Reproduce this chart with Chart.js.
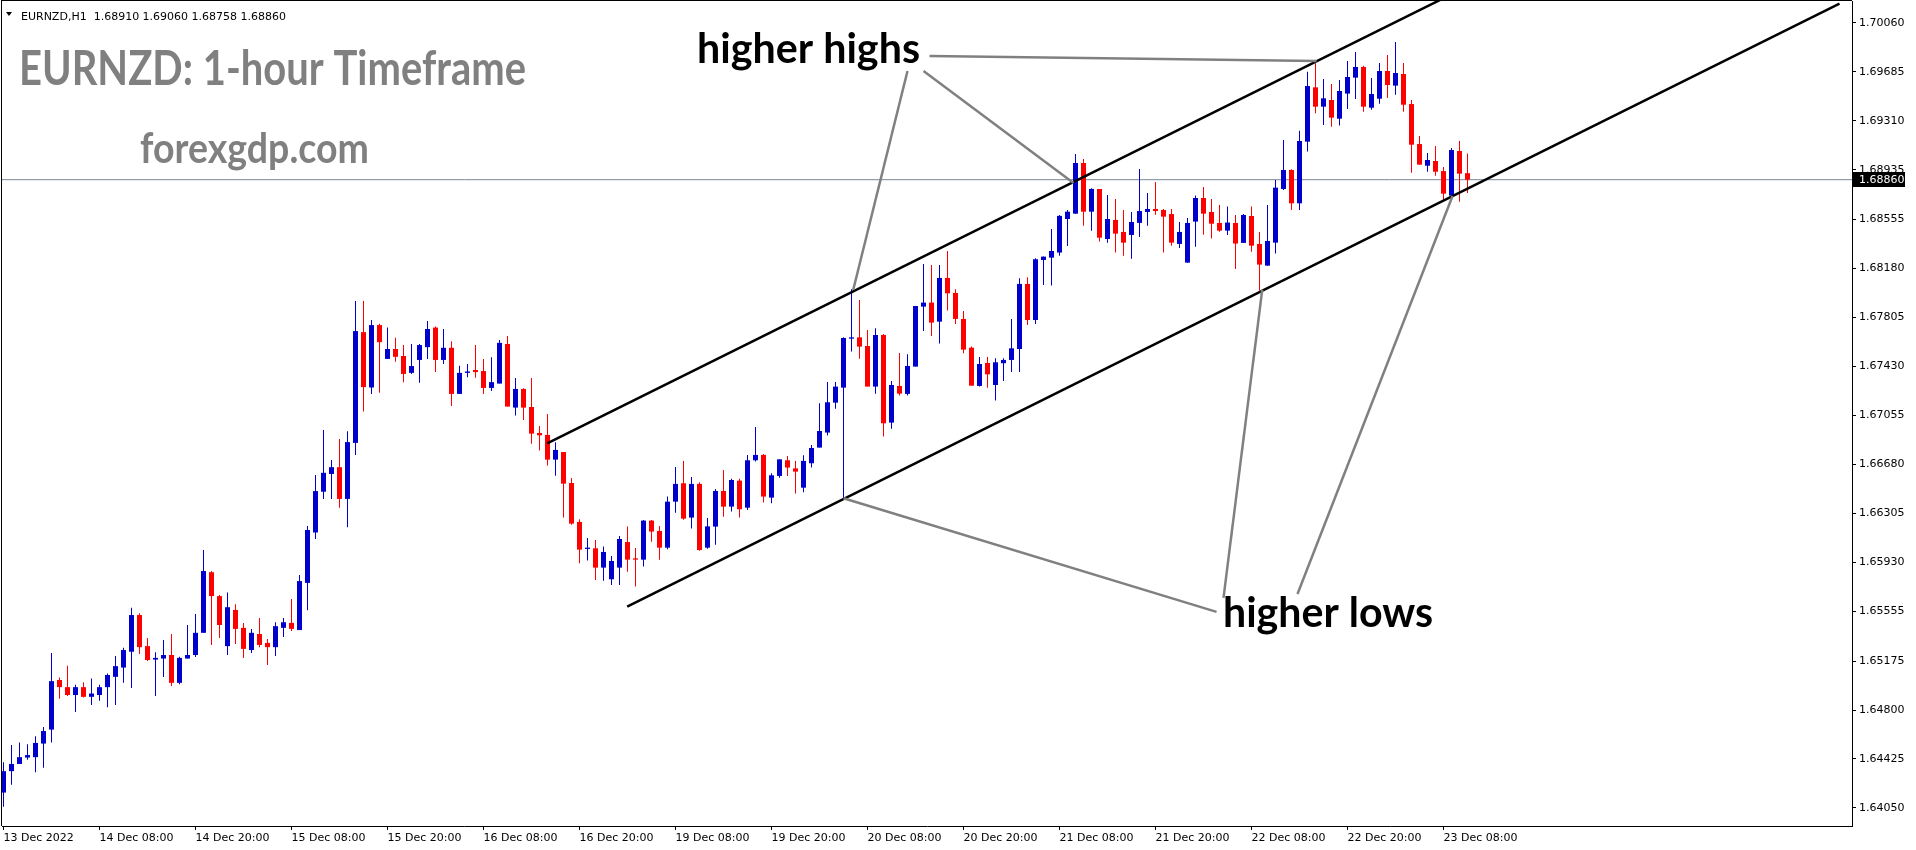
<!DOCTYPE html>
<html>
<head>
<meta charset="utf-8">
<title>EURNZD H1</title>
<script src="https://cdn.jsdelivr.net/npm/chart.js@4.4.1/dist/chart.umd.min.js"></script>
<style>
    html, body { margin: 0; padding: 0; background: #ffffff; }
    #wrap { position: relative; width: 1916px; height: 850px; }
</style>
</head>
<body>
<div id="wrap"><canvas id="eurnzdChart" width="1916" height="850"></canvas></div>
<script>
"use strict";

// ------------------------------------------------------- //
// Data (one hourly bar per index)
// ------------------------------------------------------ //
var opens = [
    1.64168, 1.64332, 1.64387, 1.64436, 1.64439, 1.64543, 1.64650, 1.65030, 1.64975, 1.64915, 1.64975, 1.64901,
    1.64915, 1.64975, 1.65054, 1.65125, 1.65246, 1.65527, 1.65289, 1.65186, 1.65194, 1.65221, 1.65008, 1.65194,
    1.65221, 1.65391, 1.65855, 1.65672, 1.65289, 1.65566, 1.65429, 1.65259, 1.65382, 1.65314, 1.65281, 1.65429,
    1.65467, 1.65412, 1.65773, 1.66159, 1.66471, 1.66607, 1.66659, 1.66416, 1.66845, 1.67693, 1.67269, 1.67747,
    1.67488, 1.67564, 1.67510, 1.67381, 1.67480, 1.67578, 1.67728, 1.67480, 1.67573, 1.67220, 1.67381, 1.67403,
    1.67395, 1.67266, 1.67299, 1.67602, 1.67115, 1.67258, 1.67120, 1.66921, 1.66906, 1.66717, 1.66775, 1.66538,
    1.66240, 1.66033, 1.66038, 1.65890, 1.65801, 1.65890, 1.66086, 1.65961, 1.65951, 1.66250, 1.66171, 1.66043,
    1.66395, 1.66536, 1.66273, 1.66531, 1.66043, 1.66204, 1.66477, 1.66357, 1.66556, 1.66349, 1.66712, 1.66753,
    1.66426, 1.66592, 1.66712, 1.66650, 1.66502, 1.66689, 1.66809, 1.66924, 1.67153, 1.67268, 1.67643, 1.67653,
    1.67587, 1.67276, 1.67671, 1.67000, 1.67281, 1.67220, 1.67429, 1.67888, 1.67919, 1.67773, 1.68108, 1.67993,
    1.67794, 1.67574, 1.67281, 1.67457, 1.67288, 1.67455, 1.67480, 1.67564, 1.68062, 1.67786, 1.68245, 1.68263,
    1.68302, 1.68559, 1.68600, 1.68988, 1.68615, 1.68789, 1.68406, 1.68552, 1.68460, 1.68437, 1.68529, 1.68613,
    1.68636, 1.68628, 1.68597, 1.68368, 1.68225, 1.68539, 1.68720, 1.68613, 1.68529, 1.68470, 1.68529, 1.68376,
    1.68582, 1.68368, 1.68202, 1.68378, 1.68789, 1.68934, 1.68679, 1.69151, 1.69567, 1.69419, 1.69470, 1.69327,
    1.69519, 1.69641, 1.69723, 1.69411, 1.69480, 1.69692, 1.69580, 1.69669, 1.69439, 1.69133, 1.68967, 1.69003,
    1.68926, 1.68738, 1.69080, 1.68910
];
var highs = [
    1.64401, 1.64532, 1.64551, 1.64537, 1.64600, 1.64669, 1.65237, 1.65049, 1.65139, 1.64994, 1.65013, 1.65041,
    1.64994, 1.65079, 1.65213, 1.65276, 1.65582, 1.65541, 1.65352, 1.65243, 1.65336, 1.65382, 1.65207, 1.65451,
    1.65535, 1.66025, 1.65864, 1.65680, 1.65700, 1.65609, 1.65467, 1.65421, 1.65505, 1.65344, 1.65472, 1.65505,
    1.65650, 1.65833, 1.66208, 1.66599, 1.66944, 1.66714, 1.66875, 1.66935, 1.67931, 1.67931, 1.67786, 1.67758,
    1.67728, 1.67649, 1.67594, 1.67603, 1.67603, 1.67778, 1.67737, 1.67717, 1.67624, 1.67436, 1.67449, 1.67594,
    1.67488, 1.67501, 1.67633, 1.67664, 1.67342, 1.67263, 1.67342, 1.66975, 1.67066, 1.66850, 1.66775, 1.66576,
    1.66260, 1.66117, 1.66102, 1.66051, 1.65979, 1.66132, 1.66204, 1.66041, 1.66255, 1.66255, 1.66209, 1.66434,
    1.66661, 1.66707, 1.66584, 1.66543, 1.66270, 1.66492, 1.66638, 1.66571, 1.66571, 1.66753, 1.66967, 1.66760,
    1.66612, 1.66719, 1.66745, 1.66707, 1.66750, 1.66829, 1.67148, 1.67312, 1.67312, 1.67653, 1.68021, 1.67939,
    1.67710, 1.67722, 1.67679, 1.67319, 1.67533, 1.67523, 1.67893, 1.68215, 1.68207, 1.68207, 1.68314, 1.68021,
    1.67855, 1.67582, 1.67503, 1.67503, 1.67493, 1.67493, 1.67794, 1.68105, 1.68113, 1.68258, 1.68271, 1.68483,
    1.68590, 1.68628, 1.69057, 1.69019, 1.68794, 1.68789, 1.68743, 1.68712, 1.68628, 1.68613, 1.68942, 1.68758,
    1.68842, 1.68636, 1.68636, 1.68536, 1.68567, 1.68738, 1.68804, 1.68712, 1.68666, 1.68654, 1.68590, 1.68598,
    1.68654, 1.68460, 1.68667, 1.68858, 1.69164, 1.68939, 1.69235, 1.69687, 1.69751, 1.69631, 1.69593, 1.69623,
    1.69769, 1.69838, 1.69733, 1.69639, 1.69753, 1.69815, 1.69914, 1.69753, 1.69470, 1.69194, 1.69064, 1.69118,
    1.68957, 1.69103, 1.69156, 1.69060
];
var lows = [
    1.64059, 1.64228, 1.64387, 1.64420, 1.64324, 1.64357, 1.64551, 1.64887, 1.64907, 1.64784, 1.64896, 1.64838,
    1.64871, 1.64822, 1.64838, 1.65008, 1.64969, 1.65229, 1.65175, 1.64907, 1.65052, 1.64983, 1.64997, 1.65194,
    1.65205, 1.65391, 1.65298, 1.65352, 1.65221, 1.65306, 1.65199, 1.65237, 1.65281, 1.65144, 1.65213, 1.65358,
    1.65404, 1.65412, 1.65563, 1.66110, 1.66416, 1.66416, 1.66348, 1.66200, 1.66752, 1.67086, 1.67220, 1.67228,
    1.67488, 1.67466, 1.67310, 1.67373, 1.67305, 1.67488, 1.67387, 1.67449, 1.67127, 1.67220, 1.67348, 1.67343,
    1.67220, 1.67242, 1.67299, 1.67123, 1.67054, 1.67021, 1.66839, 1.66786, 1.66671, 1.66594, 1.66273, 1.66219,
    1.65923, 1.65944, 1.65796, 1.65790, 1.65757, 1.65757, 1.65859, 1.65745, 1.65898, 1.66089, 1.65951, 1.66030,
    1.66311, 1.66257, 1.66189, 1.66020, 1.66035, 1.66066, 1.66280, 1.66319, 1.66273, 1.66332, 1.66702, 1.66388,
    1.66383, 1.66579, 1.66592, 1.66457, 1.66467, 1.66656, 1.66809, 1.66901, 1.67107, 1.66421, 1.67544, 1.67490,
    1.67276, 1.67222, 1.66893, 1.66954, 1.67207, 1.67207, 1.67429, 1.67702, 1.67664, 1.67605, 1.67858, 1.67755,
    1.67531, 1.67283, 1.67276, 1.67268, 1.67169, 1.67319, 1.67388, 1.67388, 1.67748, 1.67756, 1.68054, 1.68049,
    1.68278, 1.68352, 1.68600, 1.68508, 1.68470, 1.68386, 1.68378, 1.68302, 1.68278, 1.68255, 1.68421, 1.68508,
    1.68592, 1.68302, 1.68355, 1.68337, 1.68225, 1.68347, 1.68439, 1.68409, 1.68462, 1.68437, 1.68177, 1.68376,
    1.68309, 1.68011, 1.68202, 1.68294, 1.68781, 1.68628, 1.68628, 1.69075, 1.69368, 1.69279, 1.69266, 1.69274,
    1.69401, 1.69478, 1.69381, 1.69396, 1.69442, 1.69485, 1.69511, 1.69381, 1.68914, 1.68975, 1.68921, 1.68891,
    1.68704, 1.68730, 1.68692, 1.68758
];
var closes = [
    1.64332, 1.64387, 1.64439, 1.64455, 1.64548, 1.64639, 1.65021, 1.64975, 1.64915, 1.64975, 1.64901, 1.64926,
    1.64975, 1.65068, 1.65136, 1.65259, 1.65527, 1.65281, 1.65183, 1.65199, 1.65221, 1.65008, 1.65199, 1.65221,
    1.65391, 1.65864, 1.65672, 1.65451, 1.65587, 1.65421, 1.65268, 1.65391, 1.65298, 1.65281, 1.65442, 1.65472,
    1.65421, 1.65787, 1.66178, 1.66476, 1.66616, 1.66659, 1.66416, 1.66851, 1.67701, 1.67272, 1.67747, 1.67616,
    1.67564, 1.67504, 1.67373, 1.67433, 1.67594, 1.67717, 1.67480, 1.67573, 1.67220, 1.67381, 1.67392, 1.67387,
    1.67266, 1.67310, 1.67611, 1.67123, 1.67258, 1.67115, 1.66916, 1.66903, 1.66717, 1.66791, 1.66533, 1.66227,
    1.66028, 1.66043, 1.65890, 1.66010, 1.65941, 1.66109, 1.65951, 1.65951, 1.66250, 1.66166, 1.66043, 1.66395,
    1.66531, 1.66265, 1.66531, 1.66025, 1.66206, 1.66477, 1.66357, 1.66561, 1.66337, 1.66712, 1.66753, 1.66434,
    1.66597, 1.66719, 1.66656, 1.66625, 1.66707, 1.66806, 1.66936, 1.67156, 1.67276, 1.67648, 1.67653, 1.67582,
    1.67276, 1.67671, 1.66995, 1.67288, 1.67222, 1.67434, 1.67893, 1.67919, 1.67766, 1.68108, 1.67990, 1.67794,
    1.67559, 1.67283, 1.67449, 1.67370, 1.67462, 1.67480, 1.67569, 1.68062, 1.67786, 1.68251, 1.68271, 1.68314,
    1.68583, 1.68615, 1.68988, 1.68615, 1.68789, 1.68416, 1.68559, 1.68447, 1.68378, 1.68536, 1.68620, 1.68636,
    1.68620, 1.68577, 1.68378, 1.68460, 1.68529, 1.68720, 1.68600, 1.68523, 1.68470, 1.68532, 1.68371, 1.68590,
    1.68355, 1.68210, 1.68391, 1.68799, 1.68934, 1.68679, 1.69156, 1.69577, 1.69419, 1.69483, 1.69335, 1.69539,
    1.69646, 1.69723, 1.69419, 1.69516, 1.69692, 1.69585, 1.69677, 1.69434, 1.69128, 1.68975, 1.69011, 1.68921,
    1.68753, 1.69087, 1.68906, 1.68860
];

// axis ticks
var priceTicks = [1.70060, 1.69685, 1.69310, 1.68935, 1.68555, 1.68180, 1.67805, 1.67430, 1.67055,
                  1.66680, 1.66305, 1.65930, 1.65555, 1.65175, 1.64800, 1.64425, 1.64050];
var timeTickBars = [0, 12, 24, 36, 48, 60, 72, 84, 96, 108, 120, 132, 144, 156, 168, 180];
var timeTickLabels = ["13 Dec 2022", "14 Dec 08:00", "14 Dec 20:00", "15 Dec 08:00", "15 Dec 20:00",
                      "16 Dec 08:00", "16 Dec 20:00", "19 Dec 08:00", "19 Dec 20:00", "20 Dec 08:00",
                      "20 Dec 20:00", "21 Dec 08:00", "21 Dec 20:00", "22 Dec 08:00", "22 Dec 20:00",
                      "23 Dec 08:00"];

// drawn objects: [bar index, price] end points
var channelTop = [[67.96, 1.66842], [182.1, 1.70313]];
var channelBottom = [[77.96, 1.65591], [229.5, 1.70208]];
var highsPointers = [
    [[115.75, 1.69807], [164.13, 1.69769]],
    [[115.0, 1.69692], [133.75, 1.68835]],
    [[113.0, 1.69692], [106.21, 1.68016]]
];
var lowsPointers = [
    [[105.0, 1.66421], [151.63, 1.65551]],
    [[152.5, 1.65658], [157.34, 1.68016]],
    [[161.75, 1.65688], [181.13, 1.68735]]
];

// ------------------------------------------------------- //
// Scale window
// ------------------------------------------------------ //
var xMin = -0.1875, xMax = 231.0625;
var yMin = 1.63912, yMax = 1.70228;

var bullColor = "#0000CD";
var bearColor = "#FF0000";
var last = opens.length - 1;

var candleColors = opens.map(function (o, i) {
    return closes[i] >= o ? bullColor : bearColor;
});
var wickData = opens.map(function (o, i) {
    return { x: i, y: [lows[i], highs[i]] };
});
var bodyData = opens.map(function (o, i) {
    return { x: i, y: [o, closes[i]] };
});

function segment(points, color, width, order) {
    return {
        type: "line",
        data: points.map(function (p) { return { x: p[0], y: p[1] }; }),
        borderColor: color,
        borderWidth: width,
        pointRadius: 0,
        fill: false,
        tension: 0,
        order: order,
    };
}

// text stretched to the box it takes in the picture
function fitText(ctx, text, x, base, width, ascent, ref, family, color) {
    ctx.save();
    ctx.font = "bold 100px " + family;
    var w = ctx.measureText(text).width;
    var a = ctx.measureText(ref).actualBoundingBoxAscent;
    ctx.translate(x, base);
    ctx.scale(width / w, ascent / a);
    ctx.fillStyle = color;
    ctx.textAlign = "left";
    ctx.textBaseline = "alphabetic";
    ctx.fillText(text, 0, 0);
    ctx.restore();
}

// keep the plot box fixed, labels may hang over it
function noPadding(s) {
    s.paddingTop = 0;
    s.paddingBottom = 0;
    s.paddingLeft = 0;
    s.paddingRight = 0;
}

var overlayPlugin = {
    id: "overlay",
    afterDraw: function (chart) {
        var ctx = chart.ctx;
        var area = chart.chartArea;
        var yScale = chart.scales.y;
        ctx.save();

        // frame on the left and top
        ctx.fillStyle = "#000000";
        ctx.fillRect(area.left - 1, 0, 1, area.bottom);
        ctx.fillRect(area.left - 1, 0, area.right - area.left + 1, 1);

        // current price label
        var py = Math.round(yScale.getPixelForValue(closes[last]));
        ctx.fillStyle = "#000000";
        ctx.fillRect(area.right + 1, py - 8, 52, 15);
        ctx.fillStyle = "#ffffff";
        ctx.font = "11px 'DejaVu Sans'";
        ctx.textBaseline = "middle";
        ctx.fillText(closes[last].toFixed(5), area.right + 7, py);

        // symbol line
        ctx.fillStyle = "#000000";
        ctx.beginPath();
        ctx.moveTo(6, 12);
        ctx.lineTo(12, 12);
        ctx.lineTo(9, 16);
        ctx.closePath();
        ctx.fill();
        ctx.font = "11px 'DejaVu Sans'";
        ctx.textBaseline = "alphabetic";
        ctx.fillText("EURNZD,H1  " + [opens[last], highs[last], lows[last], closes[last]]
            .map(function (v) { return v.toFixed(5); }).join(" "), 21, 20);

        ctx.restore();

        fitText(ctx, "EURNZD: 1-hour Timeframe", 19, 85, 507, 35, "E", "Lato, 'Open Sans'", "#808080");
        fitText(ctx, "forexgdp.com", 140, 162.6, 229, 31, "d", "Lato, 'Open Sans'", "#808080");
        fitText(ctx, "higher highs", 697, 63.3, 223, 31, "h", "Lato, 'Open Sans'", "#000000");
        fitText(ctx, "higher lows", 1223, 626.7, 210, 31.7, "h", "Lato, 'Open Sans'", "#000000");
    },
};

Chart.defaults.font.family = "'DejaVu Sans'";
Chart.defaults.font.size = 11;
Chart.defaults.color = "#000000";

var datasets = [
    {
        type: "bar",
        label: "wicks",
        data: wickData,
        backgroundColor: candleColors,
        grouped: false,
        maxBarThickness: 1,
        minBarLength: 1,
        borderWidth: 0,
        inflateAmount: 0,
        order: 10,
    },
    {
        type: "bar",
        label: "bodies",
        data: bodyData,
        backgroundColor: candleColors,
        grouped: false,
        maxBarThickness: 5,
        minBarLength: 1,
        borderWidth: 0,
        inflateAmount: 0,
        order: 9,
    },
    segment([[xMin, closes[last]], [xMax, closes[last]]], "#778899", 1, 20),
    segment(channelTop, "#000000", 2.5, 2),
    segment(channelBottom, "#000000", 2.5, 2),
];
highsPointers.concat(lowsPointers).forEach(function (p) {
    datasets.push(segment(p, "#808080", 2.5, 1));
});

var EURNZD = document.getElementById("eurnzdChart");
var eurnzdChart = new Chart(EURNZD, {
    type: "bar",
    data: { datasets: datasets },
    plugins: [overlayPlugin],
    options: {
        responsive: false,
        animation: false,
        devicePixelRatio: 1,
        events: [],
        layout: { padding: { left: 2, top: 1, right: 0, bottom: 0 } },
        plugins: {
            legend: { display: false },
            tooltip: { enabled: false },
        },
        scales: {
            x: {
                type: "linear",
                position: "bottom",
                min: xMin,
                max: xMax,
                offset: false,
                afterFit: function (s) { s.height = 24; noPadding(s); },
                afterBuildTicks: function (s) {
                    s.ticks = timeTickBars.map(function (v) { return { value: v }; });
                },
                ticks: {
                    autoSkip: false,
                    maxRotation: 0,
                    align: "start",
                    padding: 2,
                    callback: function (v, i) { return timeTickLabels[i]; },
                },
                grid: { drawOnChartArea: false, offset: false, tickLength: 4, color: "#000000" },
                border: { color: "#000000" },
            },
            y: {
                type: "linear",
                position: "right",
                min: yMin,
                max: yMax,
                afterFit: function (s) { s.width = 64; noPadding(s); },
                afterBuildTicks: function (s) {
                    s.ticks = priceTicks.map(function (v) { return { value: v }; });
                },
                ticks: {
                    autoSkip: false,
                    padding: 3,
                    callback: function (v) { return v.toFixed(5); },
                },
                grid: { drawOnChartArea: false, tickLength: 4, color: "#000000" },
                border: { color: "#000000" },
            },
        },
    },
});
</script>
</body>
</html>
